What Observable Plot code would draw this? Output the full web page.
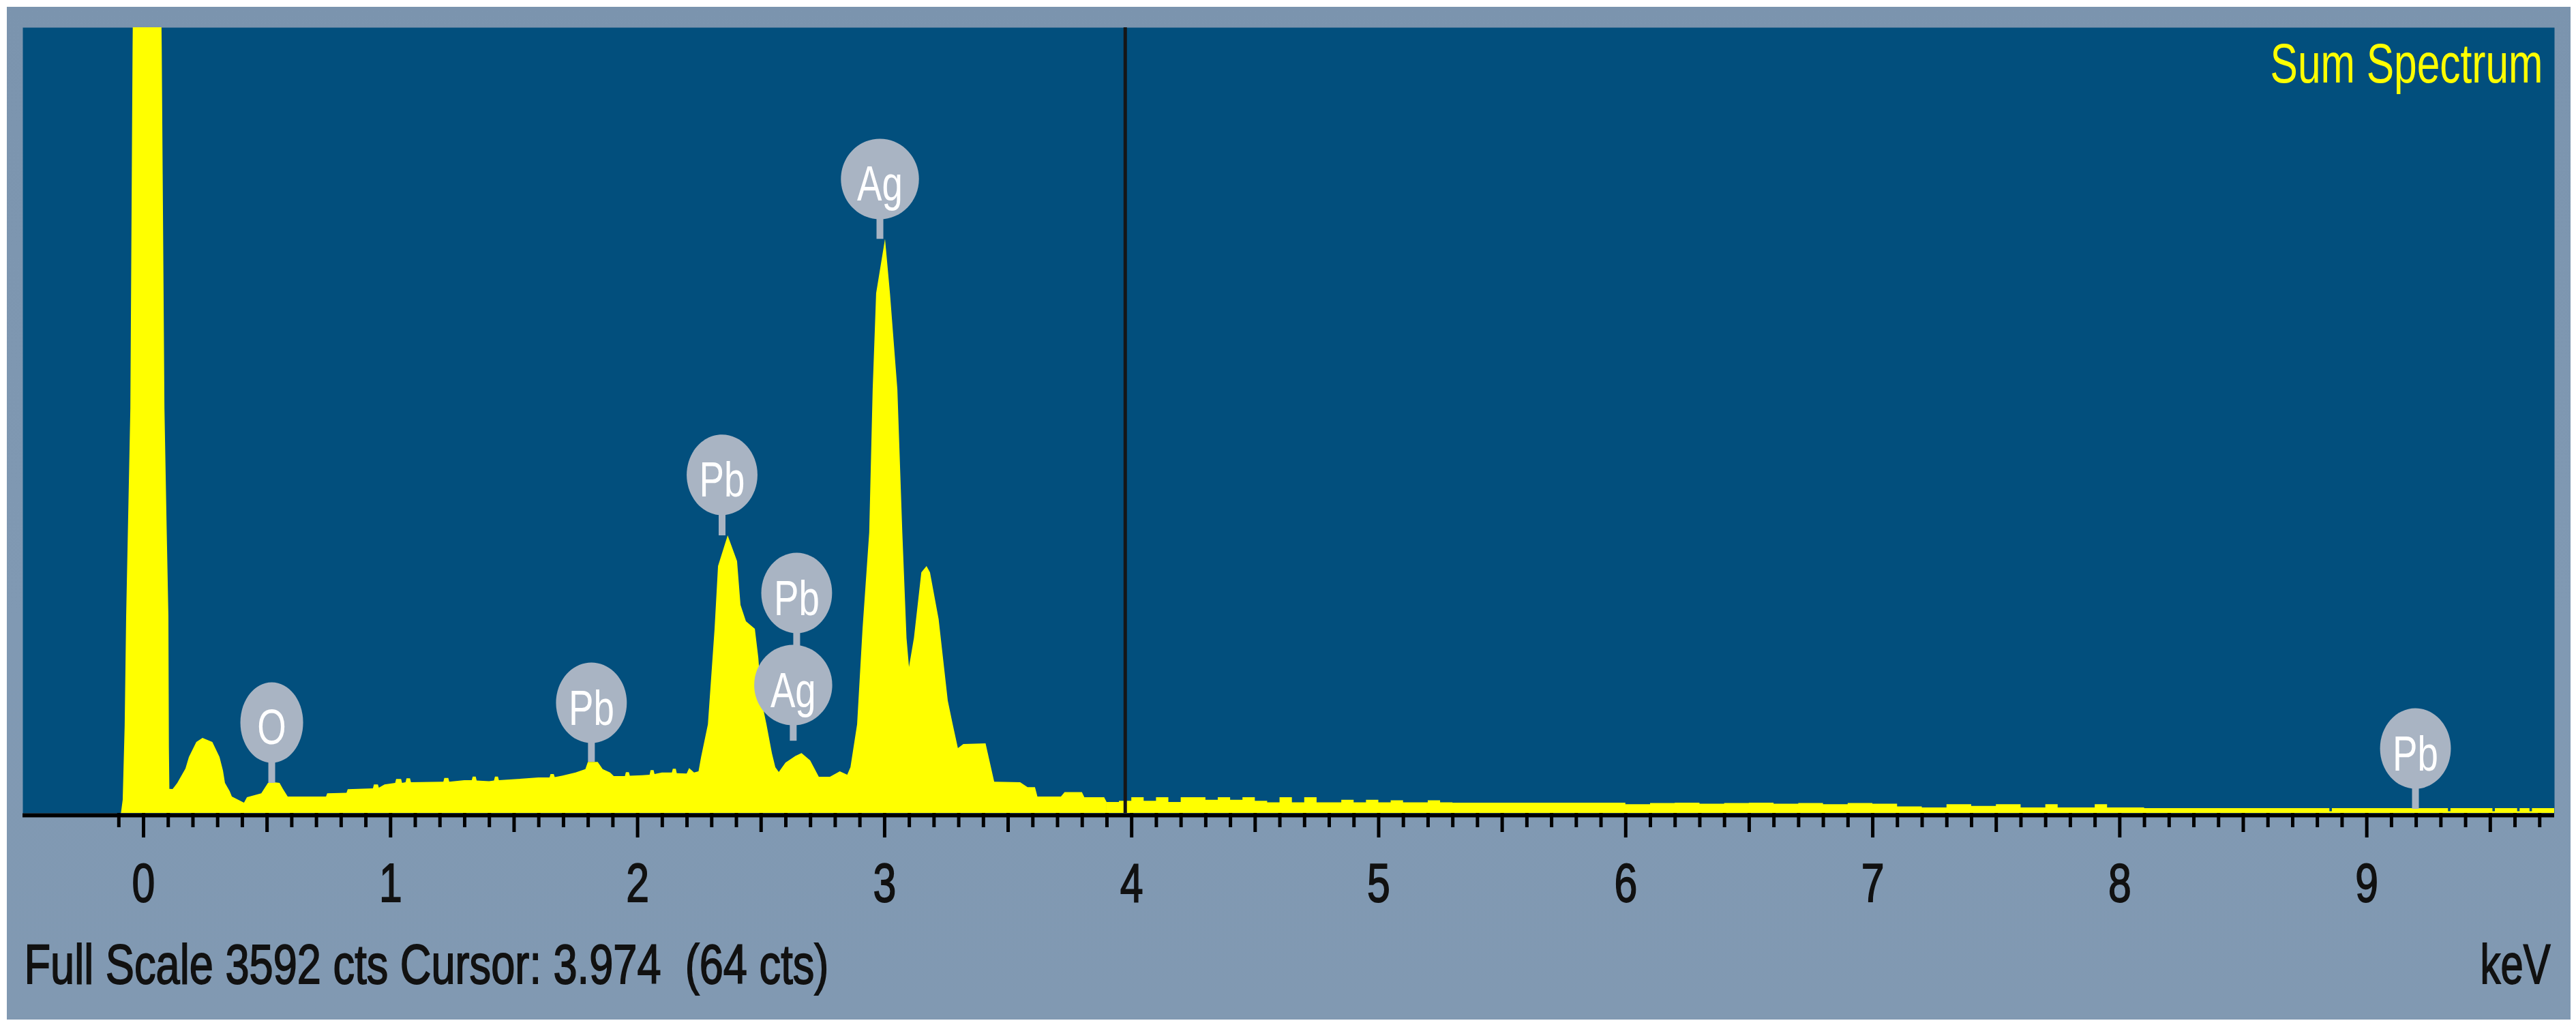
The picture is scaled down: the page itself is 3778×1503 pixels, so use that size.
<!DOCTYPE html>
<html>
<head>
<meta charset="utf-8">
<script src="https://cdn.jsdelivr.net/npm/d3@7"></script>
<script src="https://cdn.jsdelivr.net/npm/@observablehq/plot@0.6"></script>
<style>
html, body { margin: 0; padding: 0; background: #ffffff; width: 3778px; height: 1503px; overflow: hidden; }
#frame { position: absolute; left: 10px; top: 10px; width: 3760px; height: 1485px;
  background: linear-gradient(to bottom, #7b94ae 0%, #8099b3 60%, #8199b2 100%); }
#chart { position: absolute; left: 0; top: 0; width: 3778px; height: 1503px; }
</style>
</head>
<body>
<div id="frame"></div>
<div id="chart"></div>
<script>
// ---- Data ----
const fullScale = 3592;     // cts at top of the plot
const cursorKeV = 3.974;
const cursorCts = 64;

// Spectrum around the peaks: [keV, counts]
const spectrumPeaks = [
  [-0.090, 0], [-0.083, 60], [-0.075, 400], [-0.069, 900], [-0.060, 1400], [-0.052, 1850],
  [-0.043, 3500], [-0.035, 4500], [0.015, 9000], [0.065, 4500], [0.075, 3500], [0.086, 1850],
  [0.095, 1300], [0.102, 900], [0.104, 300], [0.106, 110], [0.119, 109], [0.138, 137],
  [0.171, 203], [0.185, 256], [0.215, 324], [0.240, 343], [0.280, 324], [0.309, 256],
  [0.323, 193], [0.331, 137], [0.350, 100], [0.359, 75], [0.408, 47], [0.420, 72],
  [0.478, 90], [0.505, 137], [0.530, 140], [0.552, 137], [0.566, 109], [0.585, 75],
  [0.740, 75], [0.745, 90], [0.823, 92], [0.828, 108], [0.930, 112], [0.934, 130],
  [0.950, 130], [0.954, 115], [0.977, 130], [1.020, 137], [1.024, 155], [1.044, 155],
  [1.048, 137], [1.062, 140], [1.066, 158], [1.080, 158], [1.084, 140], [1.215, 143],
  [1.219, 160], [1.235, 160], [1.239, 143], [1.300, 150], [1.330, 150], [1.334, 166],
  [1.346, 166], [1.350, 148], [1.400, 145], [1.420, 148], [1.424, 166], [1.436, 166],
  [1.440, 150], [1.515, 155], [1.600, 162], [1.645, 162], [1.649, 178], [1.662, 178],
  [1.666, 164], [1.695, 170], [1.750, 185], [1.790, 200], [1.800, 233], [1.840, 233],
  [1.860, 200], [1.890, 185], [1.905, 168], [1.950, 168], [1.954, 186], [1.966, 186],
  [1.970, 170], [2.020, 172], [2.050, 175], [2.054, 196], [2.066, 196], [2.070, 178],
  [2.100, 185], [2.140, 185], [2.144, 202], [2.156, 202], [2.160, 182], [2.200, 180],
  [2.210, 205], [2.230, 185], [2.248, 190], [2.258, 253], [2.286, 405], [2.313, 842],
  [2.327, 1129], [2.366, 1269], [2.404, 1151], [2.418, 951], [2.440, 876], [2.476, 842],
  [2.490, 711], [2.503, 514], [2.523, 405], [2.545, 274], [2.559, 209], [2.573, 187],
  [2.600, 230], [2.640, 260], [2.665, 274], [2.700, 240], [2.735, 165], [2.780, 165],
  [2.820, 190], [2.850, 175], [2.863, 209], [2.890, 405], [2.912, 842], [2.939, 1282],
  [2.953, 1936], [2.967, 2376], [3.003, 2625], [3.023, 2376], [3.053, 1936], [3.073, 1282],
  [3.090, 800], [3.100, 667], [3.120, 800], [3.150, 1100], [3.171, 1129], [3.185, 1100],
  [3.220, 886], [3.257, 514], [3.277, 405], [3.298, 296], [3.320, 315], [3.410, 318],
  [3.445, 143], [3.550, 140], [3.580, 118], [3.610, 118], [3.620, 75], [3.715, 75],
  [3.730, 95], [3.800, 95], [3.810, 72], [3.890, 72], [3.900, 50]
];

// Background above 3.9 keV (drawn as steps)
const bgKeV = [3.90,3.95,4.00,4.05,4.10,4.15,4.20,4.25,4.30,4.35,4.40,4.45,4.50,4.55,4.60,4.65,4.70,4.75,4.80,4.85,
  4.90,4.95,5.00,5.05,5.10,5.15,5.20,5.25,5.30,5.50,5.70,5.90,6.00,6.10,6.20,6.30,6.40,6.50,6.60,6.70,
  6.80,6.90,7.00,7.10,7.20,7.30,7.40,7.50,7.60,7.70,7.75,7.90,7.95,8.00,8.10,8.85,8.86,9.33,9.34,9.51,
  9.52,9.61,9.62,9.66,9.67,9.76];
const bgCts = [50,55,72,55,72,50,72,72,60,72,60,72,55,48,72,48,72,48,48,60,
  48,60,48,58,48,48,58,48,47,47,47,47,40,45,47,42,45,47,42,45,
  40,45,42,30,25,40,32,40,25,40,25,40,25,25,22,8,22,8,22,8,
  22,8,22,8,22,22];

// Element markers
const labelNames = ["O", "Pb", "Pb", "Ag", "Pb", "Ag", "Pb"];
const labelKeV   = [0.519, 1.813, 2.342, 2.981, 2.644, 2.630, 9.197];
const labelAt    = [415, 505, 1547, 2900, 1007, 586, 296];   // cts at marker centre
const labelStem  = [137, 234, 1269, 2625, 586, 330, 19];     // cts where the stem ends

// Axis ticks
const majorTicks = [0, 1, 2, 3, 4, 5, 6, 7, 8, 9];
const halfTicks = [0.5, 1.5, 2.5, 3.5, 4.5, 5.5, 6.5, 7.5, 8.5, 9.5];
const minorTicks = d3.range(-1, 98).filter(i => i % 5 !== 0).map(i => i / 10);

// ---- Tables ----
const peaks = spectrumPeaks.map(([keV, cts]) => ({keV, cts}));
const background = bgKeV.map((keV, i) => ({keV, cts: bgCts[i]}));
const labels = labelNames.map((name, i) => ({name, keV: labelKeV[i], at: labelAt[i], stem: labelStem[i]}));
const caption = `Full Scale ${fullScale} cts Cursor: ${cursorKeV.toFixed(3)}  (${cursorCts} cts)`;

// Ellipse symbol
function ellipse(k) {
  return {
    draw(ctx, size) {
      const r = Math.sqrt(size / Math.PI), rx = r * k, ry = r, c = 0.5523;
      ctx.moveTo(rx, 0);
      ctx.bezierCurveTo(rx, ry * c, rx * c, ry, 0, ry);
      ctx.bezierCurveTo(-rx * c, ry, -rx, ry * c, -rx, 0);
      ctx.bezierCurveTo(-rx, -ry * c, -rx * c, -ry, 0, -ry);
      ctx.bezierCurveTo(rx * c, -ry, rx, -ry * c, rx, 0);
      ctx.closePath();
    }
  };
}
const aspect = {O: 0.78, Pb: 0.88, Ag: 0.97};
const markerGrey = "#a9b4c3";

// widths (px) of the condensed corner texts
const sumWidth = 400, kevWidth = 103, captionWidth = 1180;

const svg = Plot.plot({
  width: 3778,
  height: 1503,
  marginLeft: 33,
  marginRight: 32,
  marginTop: 40,
  marginBottom: 311,
  style: {background: "transparent", fontFamily: "'Liberation Sans', Arial, sans-serif", overflow: "visible"},
  x: {domain: [-0.4886, 9.760], label: null},
  y: {domain: [0, fullScale], axis: null, label: null},
  marks: [
    Plot.frame({fill: "#024f7d", stroke: null}),
    Plot.areaY(peaks, {x: "keV", y: "cts", fill: "#ffff00", curve: "linear", clip: true}),
    Plot.areaY(background, {x: "keV", y: "cts", fill: "#ffff00", curve: "step-after", clip: true}),
    Plot.ruleX(labels, {x: "keV", y1: "stem", y2: "at", stroke: markerGrey, strokeWidth: 10}),
    ...Object.keys(aspect).map(n =>
      Plot.dot(labels.filter(d => d.name === n), {x: "keV", y: "at", r: 59, symbol: ellipse(aspect[n]), fill: markerGrey, stroke: null})
    ),
    Plot.text(labels, {x: "keV", y: "at", text: "name", fill: "#ffffff", fontSize: 72, dy: 9}),
    Plot.ruleX([cursorKeV], {stroke: "#161616", strokeWidth: 5}),
    Plot.axisX(minorTicks, {tickSize: 21, tickFormat: () => "", strokeWidth: 5, stroke: "#000", label: null}),
    Plot.axisX(halfTicks, {tickSize: 28, tickFormat: () => "", strokeWidth: 5, stroke: "#000", label: null}),
    Plot.axisX(majorTicks, {tickSize: 36, tickPadding: 37, tickFormat: d => String(d), fontSize: 80,
      strokeWidth: 5, stroke: "#000", fill: "#111", label: null}),
    Plot.ruleY([0], {stroke: "#000", strokeWidth: 6, dy: 3}),
    Plot.text(["Sum Spectrum"], {text: d => d, frameAnchor: "top-right", textAnchor: "end", lineAnchor: "top",
      dx: -17, dy: 22, fill: "#ffff00", fontSize: 82}),
    Plot.text([caption], {text: d => d, frameAnchor: "bottom-left", textAnchor: "start", lineAnchor: "top",
      dx: 2, dy: 191, fill: "#111", fontSize: 82}),
    Plot.text(["keV"], {text: d => d, frameAnchor: "bottom-right", textAnchor: "end", lineAnchor: "top",
      dx: -6, dy: 191, fill: "#111", fontSize: 82})
  ]
});

document.getElementById("chart").appendChild(svg);

// Condense the lettering horizontally (about its anchor point), like the narrow instrument font
const fixedWidths = {"Sum Spectrum": sumWidth, "keV": kevWidth};
fixedWidths[caption] = captionWidth;
svg.querySelectorAll("text").forEach(t => {
  const s = t.textContent;
  if (!s.trim()) return;
  t.style.whiteSpace = "pre";
  const natural = t.getComputedTextLength();
  const k = fixedWidths[s] != null ? fixedWidths[s] / natural : 0.76;
  const ax = +(t.getAttribute("x") || 0);
  const tr = t.getAttribute("transform") || "";
  t.setAttribute("transform", `${tr} translate(${ax},0) scale(${k.toFixed(4)},1) translate(${-ax},0)`);
  // the dark instrument lettering is heavier than the regular face
  if (getComputedStyle(t).fill === "rgb(17, 17, 17)") {
    t.style.stroke = "#111";
    t.style.strokeWidth = "1.8px";
  }
});
</script>
</body>
</html>
